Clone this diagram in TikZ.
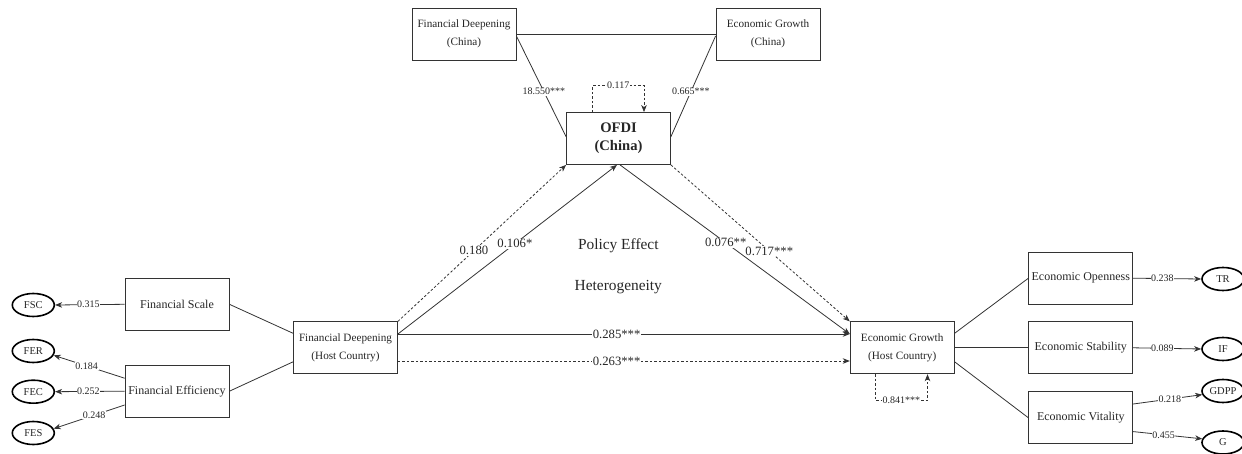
\documentclass[tikz,border=0pt]{standalone}
\usepackage{fontspec}
\setmainfont{Liberation Serif}
\usetikzlibrary{shapes.geometric,arrows.meta,calc}
\tikzset{
  box/.style={draw=black!80, line width=0.8pt, minimum width=104pt, minimum height=52pt, inner sep=0pt, align=center, text=black!85},
  lat/.style={draw=black, line width=1.6pt, ellipse, minimum width=42pt, minimum height=23pt, inner sep=0pt, font=\fontsize{10.5}{12}\selectfont, text=black!85},
  ln/.style={draw=black!80, line width=0.8pt},
  arr/.style={-{Stealth[length=7pt,width=5.5pt,inset=2pt]}},
  dsh/.style={dash pattern=on 2.5pt off 2pt},
  slbl/.style={fill=white, inner sep=0.6pt, font=\fontsize{10}{12}\selectfont, text=black!85},
  mlbl/.style={fill=white, inner sep=0.8pt, font=\fontsize{12.7}{14}\selectfont, text=black!85},
  topf/.style={font=\fontsize{11.2}{18.3}\selectfont},
  midf/.style={font=\fontsize{12}{14}\selectfont}
}
\begin{document}
\begin{tikzpicture}[x=1pt,y=-1pt]
\useasboundingbox (0,0) rectangle (1242,454);
% boxes
\node[box,topf] (fdc) at (464,34) {Financial Deepening\\(China)};
\node[box,topf] (egc) at (768,34) {Economic Growth\\(China)};
\node[box,font=\fontsize{14.6}{17.7}\selectfont\bfseries] (ofdi) at (618.5,138.5) {OFDI\\(China)};
\node[box,midf] (fs) at (177,304.3) {Financial Scale};
\node[box,midf] (fe) at (177,391.2) {Financial Efficiency};
\node[box,topf] (fdh) at (345.5,347.8) {Financial Deepening\\(Host Country)};
\node[box,topf] (egh) at (902.2,347.8) {Economic Growth\\(Host Country)};
\node[box,midf] (eo) at (1080.8,278.2) {Economic Openness};
\node[box,midf] (es) at (1080.8,347.8) {Economic Stability};
\node[box,midf] (ev) at (1080.8,417.8) {Economic Vitality};
% ellipses
\node[lat] (fsc) at (33.3,305) {FSC};
\node[lat] (fer) at (33.3,351) {FER};
\node[lat] (fec) at (33.3,391.7) {FEC};
\node[lat] (fes) at (33.3,433) {FES};
\node[lat] (tr) at (1223,279) {TR};
\node[lat] (if) at (1223,349) {IF};
\node[lat] (gdpp) at (1223,391) {GDPP};
\node[lat] (g) at (1223,442.5) {G};
% text
\node[font=\fontsize{15.4}{18}\selectfont, text=black!85] (pe) at (618.3,245.7) {Policy Effect};
\node[font=\fontsize{15.4}{18}\selectfont, text=black!85] (het) at (618.3,286.7) {Heterogeneity};
% top triangle
\draw[ln] (fdc.east) -- (egc.west);
\draw[ln] ([yshift=-2pt]fdc.east) -- node[slbl,pos=0.553]{18.550***} ([yshift=1.8pt]ofdi.west);
\draw[ln] ([yshift=-2pt]egc.west) -- node[slbl,pos=0.553]{0.665***} ([yshift=1.8pt]ofdi.east);
\draw[ln,dsh,arr] ([xshift=-26pt]ofdi.north) -- ++(0,-26.5) -- node[slbl]{0.117} ++(51.5,0) -- ([xshift=25.5pt]ofdi.north);
% middle
\draw[ln,dsh,arr] (fdh.north east) -- node[mlbl,pos=0.452]{0.180} (ofdi.south west);
\draw[ln,arr] ([yshift=13.8pt]fdh.east) -- node[mlbl,pos=0.534]{0.106*} ([xshift=-1.5pt]ofdi.south);
\draw[ln,arr] ([xshift=1.5pt]ofdi.south) -- node[mlbl,pos=0.46]{0.076**} ([yshift=13.8pt]egh.west);
\draw[ln,dsh,arr] (ofdi.south east) -- node[mlbl,pos=0.55]{0.717***} (egh.north west);
\draw[ln,arr] ([yshift=13.8pt]fdh.east) -- node[mlbl,pos=0.484]{0.285***} ([yshift=13.8pt]egh.west);
\draw[ln,dsh,arr] ([yshift=-13.2pt]fdh.east) -- node[mlbl,pos=0.484]{0.263***} ([yshift=-13.2pt]egh.west);
\draw[ln,dsh,arr] ([xshift=-27pt]egh.south) -- ++(0,26) -- node[slbl]{0.841***} ++(52.3,0) -- ([xshift=25.3pt]egh.south);
% left
\draw[ln] (fs.east) -- ([yshift=14.5pt]fdh.west);
\draw[ln] (fe.east) -- ([yshift=-14pt]fdh.west);
\draw[ln,arr] (fs.west) -- node[slbl,pos=0.52]{0.315} (fsc.east);
\draw[ln,arr] ([yshift=13pt]fe.west) -- node[slbl,pos=0.534]{0.184} (fer.-12);
\draw[ln,arr] (fe.west) -- node[slbl,pos=0.52]{0.252} (fec.east);
\draw[ln,arr] ([yshift=-13.8pt]fe.west) -- node[slbl,pos=0.43]{0.248} (fes.12);
% right
\draw[ln] ([yshift=14.5pt]egh.east) -- (eo.west);
\draw[ln] (egh.east) -- (es.west);
\draw[ln] ([yshift=-14pt]egh.east) -- (ev.west);
\draw[ln,arr] (eo.east) -- node[slbl,pos=0.43]{0.238} (tr.west);
\draw[ln,arr] (es.east) -- node[slbl,pos=0.43]{0.089} (if.west);
\draw[ln,arr] ([yshift=13.8pt]ev.east) -- node[slbl,pos=0.53]{0.218} (gdpp.190);
\draw[ln,arr] ([yshift=-13.8pt]ev.east) -- node[slbl,pos=0.44]{0.455} (g.170);
\end{tikzpicture}
\end{document}
